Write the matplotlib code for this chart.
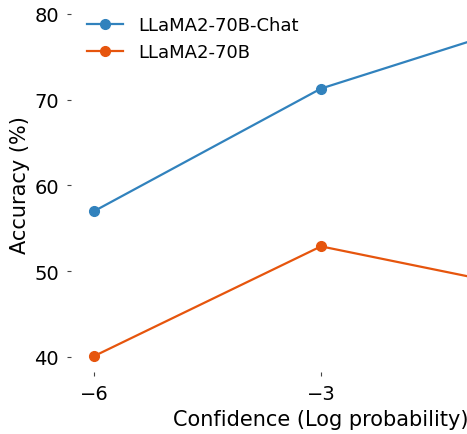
import matplotlib
matplotlib.use("Agg")
import matplotlib.pyplot as plt

x_vals = [-6, -3, 0]
chat_acc = [57.0, 71.3, 79.7]
base_acc = [40.1, 52.9, 47.5]
series_names = ["LLaMA2-70B-Chat", "LLaMA2-70B"]
x_ticks = [-6, -3, 0]
y_ticks = [40, 50, 60, 70, 80]

W, H = 467, 435
fig = plt.figure(figsize=(W / 100, H / 100), dpi=100)

# axes geometry in pixels (the reference is a crop of a wider figure)
left_px, right_px = 71.3, 570.7
bottom_px, top_px = 373.0, -2.2
ax = fig.add_axes([left_px / W, (H - bottom_px) / H,
                   (right_px - left_px) / W, (bottom_px - top_px) / H])

l1, = ax.plot(x_vals, chat_acc, color="#3182bd", marker="o", markersize=7,
              linewidth=1.6, label=series_names[0], clip_on=False)
l2, = ax.plot(x_vals, base_acc, color="#e6550d", marker="o", markersize=7,
              linewidth=1.6, label=series_names[1], clip_on=False)

ax.set_xlim(-6.3, 0.3)
ax.set_ylim(38.25, 82)
ax.set_xticks(x_ticks)
ax.set_yticks(y_ticks)
ax.set_xticklabels([f"\u2212{abs(v)}" if v < 0 else str(v) for v in x_ticks])
for s in ax.spines.values():
    s.set_visible(False)
ax.tick_params(axis="both", labelsize=14, length=3, width=0.8, color="#444444", pad=6)
ax.set_xlabel("Confidence (Log probability)", fontsize=15, labelpad=4)
ax.set_ylabel("Accuracy (%)", fontsize=15, labelpad=3)

fig.legend(handles=[l1, l2], loc="upper left", bbox_to_anchor=(80 / W, 1 - 10 / H),
           frameon=False, fontsize=13, handlelength=2.0, handletextpad=0.8,
           labelspacing=0.5, borderaxespad=0)

fig.savefig("out.png", dpi=100)
